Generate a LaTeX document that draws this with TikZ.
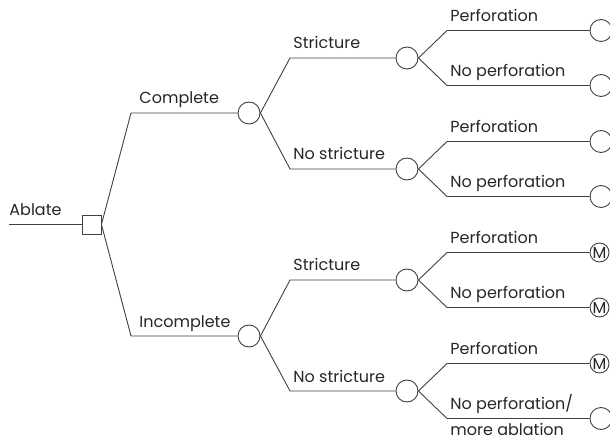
\documentclass[tikz,border=0pt]{standalone}
\usepackage{fontspec}
\setmainfont{Poppins}
\definecolor{myline}{rgb}{0.25, 0.25, 0.25}
\definecolor{mytext}{rgb}{0.15, 0.15, 0.15}

\begin{document}
\begin{tikzpicture}[x=1pt, y=-1pt, line width=0.9pt, draw=myline, text=mytext,
    font=\fontsize{16}{19}\selectfont,
    decision/.style={draw, fill=white, rectangle, minimum size=19pt, inner sep=0pt},
    chance/.style={draw, fill=white, circle, minimum size=22pt, inner sep=0pt},
    death/.style={draw, fill=white, circle, minimum size=19pt, inner sep=0pt,
      font=\fontsize{16}{16}\selectfont},
    lab/.style={anchor=base west, inner sep=0pt, xshift=3pt, yshift=9pt},
    lablow/.style={anchor=base west, inner sep=0pt, xshift=3pt, yshift=-17pt}]
  % Parameters
  \def\xb{131}    % First bend
  \def\xc{249}    % First chance nodes
  \def\xd{290}    % Second bend
  \def\xe{407}    % Second chance nodes
  \def\xf{447}    % Third bend
  \def\xg{601}    % End nodes
  \useasboundingbox (0,0) rectangle (610,443);
  % Root
  \coordinate (start) at (9,224.5);
  \node[decision] (ablate) at (91.5,224.5) {};
  \draw (start) -- (ablate);
  \node[lab, xshift=-3pt] (lablate) at (start) {Ablate};
  % Complete branch
  \coordinate (bcomp) at (\xb,113);
  \node[chance] (comp) at (\xc,113) {};
  \draw (ablate.east) -- (bcomp) -- (comp);
  \node[lab, xshift=5pt] (lcomp) at (bcomp) {Complete};
  % Incomplete branch
  \coordinate (binc) at (\xb,336);
  \node[chance] (inc) at (\xc,336) {};
  \draw (ablate.east) -- (binc) -- (inc);
  \node[lab, xshift=5pt] (linc) at (binc) {Incomplete};
  % Complete: stricture / no stricture
  \coordinate (bcs) at (\xd,58);
  \node[chance] (cs) at (\xe,58) {};
  \draw (comp.east) -- (bcs) -- (cs);
  \node[lab] (lcs) at (bcs) {Stricture};
  \coordinate (bcn) at (\xd,169);
  \node[chance] (cn) at (\xe,169) {};
  \draw (comp.east) -- (bcn) -- (cn);
  \node[lab] (lcn) at (bcn) {No stricture};
  % Incomplete: stricture / no stricture
  \coordinate (bis) at (\xd,280);
  \node[chance] (is) at (\xe,280) {};
  \draw (inc.east) -- (bis) -- (is);
  \node[lab] (lis) at (bis) {Stricture};
  \coordinate (bin) at (\xd,391);
  \node[chance] (in) at (\xe,391) {};
  \draw (inc.east) -- (bin) -- (in);
  \node[lab] (lin) at (bin) {No stricture};
  % Complete, stricture: outcomes
  \coordinate (bcsp) at (\xf,30.5);
  \node[chance] (csp) at (\xg,30.5) {};
  \draw (cs.east) -- (bcsp) -- (csp);
  \node[lab] (lcsp) at (bcsp) {Perforation};
  \coordinate (bcsn) at (\xf,85.5);
  \node[chance] (csn) at (\xg,85.5) {};
  \draw (cs.east) -- (bcsn) -- (csn);
  \node[lab] (lcsn) at (bcsn) {No perforation};
  % Complete, no stricture: outcomes
  \coordinate (bcnp) at (\xf,141.5);
  \node[chance] (cnp) at (\xg,141.5) {};
  \draw (cn.east) -- (bcnp) -- (cnp);
  \node[lab] (lcnp) at (bcnp) {Perforation};
  \coordinate (bcnn) at (\xf,196.5);
  \node[chance] (cnn) at (\xg,196.5) {};
  \draw (cn.east) -- (bcnn) -- (cnn);
  \node[lab] (lcnn) at (bcnn) {No perforation};
  % Incomplete, stricture: outcomes
  \coordinate (bisp) at (\xf,252.5);
  \node[death] (isp) at (\xg-1.5,252.5) {M};
  \draw (is.east) -- (bisp) -- (isp);
  \node[lab] (lisp) at (bisp) {Perforation};
  \coordinate (bisn) at (\xf,307.5);
  \node[death] (isn) at (\xg-1.5,307.5) {M};
  \draw (is.east) -- (bisn) -- (isn);
  \node[lab] (lisn) at (bisn) {No perforation};
  % Incomplete, no stricture: outcomes
  \coordinate (binp) at (\xf,363.5);
  \node[death] (inp) at (\xg-1.5,363.5) {M};
  \draw (in.east) -- (binp) -- (inp);
  \node[lab] (linp) at (binp) {Perforation};
  \coordinate (binn) at (\xf,418.5);
  \node[chance] (inn) at (\xg,418.5) {};
  \draw (in.east) -- (binn) -- (inn);
  \node[lab] (linn) at (binn) {No perforation/};
  \node[lablow] (linn2) at (binn) {more ablation};
\end{tikzpicture}
\end{document}
